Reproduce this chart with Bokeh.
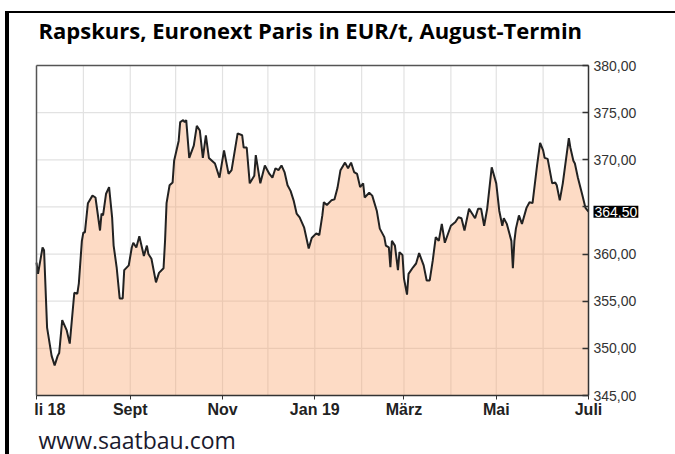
import pandas as pd
from bokeh.plotting import figure
from bokeh.models import Range1d, FixedTicker, LinearAxis
from bokeh.core.properties import value
from bokeh.embed import file_html
from bokeh.resources import INLINE

dates = [
"2018-07-01","2018-07-02","2018-07-05","2018-07-06","2018-07-08","2018-07-11","2018-07-13","2018-07-15","2018-07-16","2018-07-18",
"2018-07-21","2018-07-23","2018-07-26","2018-07-28","2018-07-29","2018-07-31","2018-08-01","2018-08-02","2018-08-04","2018-08-07",
"2018-08-09","2018-08-12","2018-08-13","2018-08-14","2018-08-16","2018-08-18","2018-08-20","2018-08-21","2018-08-23","2018-08-25",
"2018-08-27","2018-08-28","2018-08-31","2018-09-02","2018-09-03","2018-09-05","2018-09-07","2018-09-10","2018-09-12","2018-09-13",
"2018-09-15","2018-09-18","2018-09-20","2018-09-23","2018-09-24","2018-09-25","2018-09-27","2018-09-29","2018-09-30","2018-10-03",
"2018-10-04","2018-10-06","2018-10-07","2018-10-08","2018-10-10","2018-10-13","2018-10-15","2018-10-17","2018-10-19","2018-10-21",
"2018-10-23","2018-10-27","2018-10-30","2018-11-02","2018-11-05","2018-11-07","2018-11-11","2018-11-14","2018-11-15","2018-11-17",
"2018-11-19","2018-11-22","2018-11-23","2018-11-26","2018-11-29","2018-12-02","2018-12-04","2018-12-06","2018-12-08","2018-12-10",
"2018-12-12","2018-12-14","2018-12-16","2018-12-18","2018-12-20","2018-12-22","2018-12-25","2018-12-28","2018-12-30","2019-01-02",
"2019-01-04","2019-01-06","2019-01-07","2019-01-09","2019-01-12","2019-01-14","2019-01-16","2019-01-18","2019-01-21","2019-01-23",
"2019-01-25","2019-01-27","2019-01-29","2019-01-31","2019-02-02","2019-02-03","2019-02-06","2019-02-08","2019-02-11","2019-02-13",
"2019-02-16","2019-02-17","2019-02-19","2019-02-20","2019-02-21","2019-02-23","2019-02-25","2019-02-26","2019-02-28","2019-03-01",
"2019-03-03","2019-03-04","2019-03-07","2019-03-09","2019-03-11","2019-03-14","2019-03-16","2019-03-18","2019-03-20","2019-03-22",
"2019-03-24","2019-03-26","2019-03-28","2019-04-01","2019-04-04","2019-04-06","2019-04-08","2019-04-10","2019-04-13","2019-04-15",
"2019-04-17","2019-04-19","2019-04-21","2019-04-23","2019-04-25","2019-04-28","2019-05-01","2019-05-03","2019-05-05","2019-05-06",
"2019-05-08","2019-05-11","2019-05-12","2019-05-13","2019-05-14","2019-05-16","2019-05-18","2019-05-21","2019-05-23","2019-05-25",
"2019-05-28","2019-05-30","2019-06-01","2019-06-02","2019-06-04","2019-06-07","2019-06-09","2019-06-10","2019-06-12","2019-06-14",
"2019-06-18","2019-06-19","2019-06-21","2019-06-22","2019-06-24","2019-06-27","2019-06-29","2019-07-01"]

prices = [
359.1, 357.9, 360.7, 360.4, 352.2, 349.2, 348.2, 349.2, 349.5, 353.0,
351.9, 350.5, 355.9, 355.8, 356.9, 361.4, 362.3, 362.3, 365.4, 366.2,
366.0, 362.5, 364.3, 364.1, 366.4, 367.1, 363.9, 360.9, 358.6, 355.3,
355.3, 358.3, 358.8, 360.7, 361.2, 360.7, 361.9, 359.8, 360.9, 360.0,
359.5, 357.0, 358.0, 358.5, 361.4, 365.4, 367.3, 367.6, 369.9, 372.0,
374.0, 374.2, 374.0, 374.2, 370.2, 371.5, 373.6, 373.1, 370.2, 372.6,
370.2, 369.6, 368.1, 371.0, 368.5, 368.9, 372.8, 372.6, 371.3, 371.3,
367.5, 368.3, 370.5, 367.5, 369.4, 368.5, 368.1, 369.1, 368.9, 369.4,
368.7, 367.3, 366.7, 365.7, 364.3, 363.9, 362.8, 360.6, 361.7, 362.2,
362.0, 364.1, 365.5, 365.2, 365.7, 365.8, 367.0, 368.9, 369.7, 369.1,
369.7, 368.7, 368.5, 367.1, 367.5, 366.0, 366.5, 366.2, 364.6, 362.7,
361.8, 360.9, 360.7, 358.6, 361.4, 360.9, 358.3, 360.2, 359.9, 357.4,
355.7, 357.9, 358.6, 359.0, 360.1, 358.8, 357.2, 357.2, 359.3, 361.8,
361.4, 363.2, 361.2, 363.0, 363.4, 363.9, 363.8, 362.5, 364.8, 364.3,
363.8, 364.8, 364.8, 363.0, 364.8, 369.2, 367.5, 364.6, 363.0, 363.8,
363.2, 361.4, 358.5, 361.4, 362.7, 364.1, 363.2, 364.9, 365.5, 365.4,
369.4, 371.8, 371.0, 370.2, 370.1, 367.5, 367.6, 367.3, 365.7, 367.5,
372.3, 371.3, 369.9, 369.6, 368.1, 366.2, 364.9, 364.5]

x_tick_dates = ["2018-07-01", "2018-09-01", "2018-11-01", "2019-01-01",
                "2019-03-01", "2019-05-01", "2019-07-01"]
x_tick_labels = ["\u00a0" * 6 + "li 18", "Sept", "Nov", "Jan 19", "März", "Mai", "Juli"]
grid_dates = ["2018-08-01", "2018-09-01", "2018-10-01", "2018-11-01", "2018-12-01",
              "2019-01-01", "2019-02-01", "2019-03-01", "2019-04-01", "2019-05-01",
              "2019-06-01"]
y_ticks = [345, 350, 355, 360, 365, 370, 375, 380]
title_text = "Rapskurs, Euronext Paris in EUR/t, August-Termin"
footer_text = "www.saatbau.com"

origin = pd.Timestamp(x_tick_dates[0])


def offsets(ds):
    return [int((pd.Timestamp(d) - origin).days) for d in ds]


x = offsets(dates)
x_ticks = offsets(x_tick_dates)
grid_ticks = offsets(grid_dates)
last_price = prices[-1]
last_text = f"{last_price:.2f}".replace(".", ",")

# ---- layout (pixels) ----
W, H = 675, 454
PX_L, PX_R = 36, 588      # data area, left/right
PY_T, PY_B = 65, 395      # data area, top/bottom
x0, x1 = x_ticks[0], x_ticks[-1]
yb, yt = y_ticks[0], y_ticks[-1]
kx = (PX_R - PX_L) / (x1 - x0)
ky = (PY_B - PY_T) / (yt - yb)


def dx(px):
    return x0 + (px - PX_L) / kx


def dy(py):
    return yt - (py - PY_T) / ky


p = figure(width=W, height=H, output_backend="svg", toolbar_location=None,
           x_range=Range1d(dx(0), dx(W)), y_range=Range1d(dy(H), dy(0)),
           y_axis_location=None,
           min_border_left=0, min_border_right=0,
           min_border_top=0, min_border_bottom=0)
p.title.visible = False
p.background_fill_color = None
p.border_fill_color = None
p.outline_line_color = None
p.xgrid.visible = False
p.ygrid.visible = False
# surrounding screenshot frame (black lines at top and left)
p.styles = {"background": (
    "linear-gradient(#000,#000) 5px 11px / 670px 2px no-repeat, "
    "linear-gradient(#000,#000) 5px 11px / 4px 443px no-repeat, "
    "#ffffff")}

# grid lines (limited to the data area)
p.segment(x0=x0, x1=x1, y0=y_ticks, y1=y_ticks, line_color="#e2e2e2", line_width=1.2)
p.segment(x0=grid_ticks, x1=grid_ticks, y0=yb, y1=yt, line_color="#e2e2e2", line_width=1.2)

p.varea(x=x, y1=yb, y2=prices, fill_color="#F9A66F", fill_alpha=0.4)
p.line(x, prices, line_color="#222222", line_width=2)

# data-area border (top and left)
p.segment(x0=[x0, x0], y0=[yt, yb], x1=[x1, x0], y1=[yt, yt],
          line_color="#555555", line_width=1.5)

# x axis
xa = p.xaxis[0]
xa.fixed_location = yb
xa.bounds = (x0, x1)
xa.ticker = FixedTicker(ticks=x_ticks)
xa.major_label_overrides = {t: l for t, l in zip(x_ticks, x_tick_labels)}
xa.minor_tick_line_color = None
xa.major_tick_in = 0
xa.major_tick_out = 4
xa.major_label_standoff = 1
xa.axis_line_color = "#333333"
xa.axis_line_width = 1.5
xa.major_tick_line_color = "#333333"
xa.major_label_text_font = "Liberation Sans"
xa.major_label_text_font_style = "bold"
xa.major_label_text_font_size = "16px"
xa.major_label_text_color = "#222222"

# y axis at the right end of the data
ya = LinearAxis(fixed_location=x1, bounds=(yb, yt), ticker=FixedTicker(ticks=y_ticks))
ya.major_label_overrides = {
    t: ("" if abs(t - last_price) < 2.5 else f"{t:.2f}".replace(".", ","))
    for t in y_ticks}
ya.minor_tick_line_color = None
ya.major_tick_in = 6
ya.major_tick_out = 0
ya.major_label_standoff = 5
ya.axis_line_color = "#333333"
ya.axis_line_width = 1.5
ya.major_tick_line_color = "#333333"
ya.major_tick_line_width = 1.5
ya.major_label_text_font = "Liberation Sans"
ya.major_label_text_font_size = "14px"
ya.major_label_text_color = "#333333"
p.add_layout(ya, "right")

# last value box
p.text(x=[x[-1]], y=[last_price], text=[last_text], x_offset=5,
       text_align="left", text_baseline="middle", text_color="white",
       text_font=value("Liberation Sans"), text_font_size="14px",
       background_fill_color="black", padding=1)

# title and footer
p.text(x=[dx(38)], y=[dy(29)], text=[title_text], text_align="left",
       text_baseline="alphabetic", text_color="black",
       text_font=value("Open Sans"), text_font_style="bold", text_font_size="22px")
p.text(x=[dx(38)], y=[dy(439)], text=[footer_text], text_align="left",
       text_baseline="alphabetic", text_color="#1a1a2e",
       text_font=value("Open Sans"), text_font_size="23px")

open("out.html", "w").write(file_html(p, INLINE))
